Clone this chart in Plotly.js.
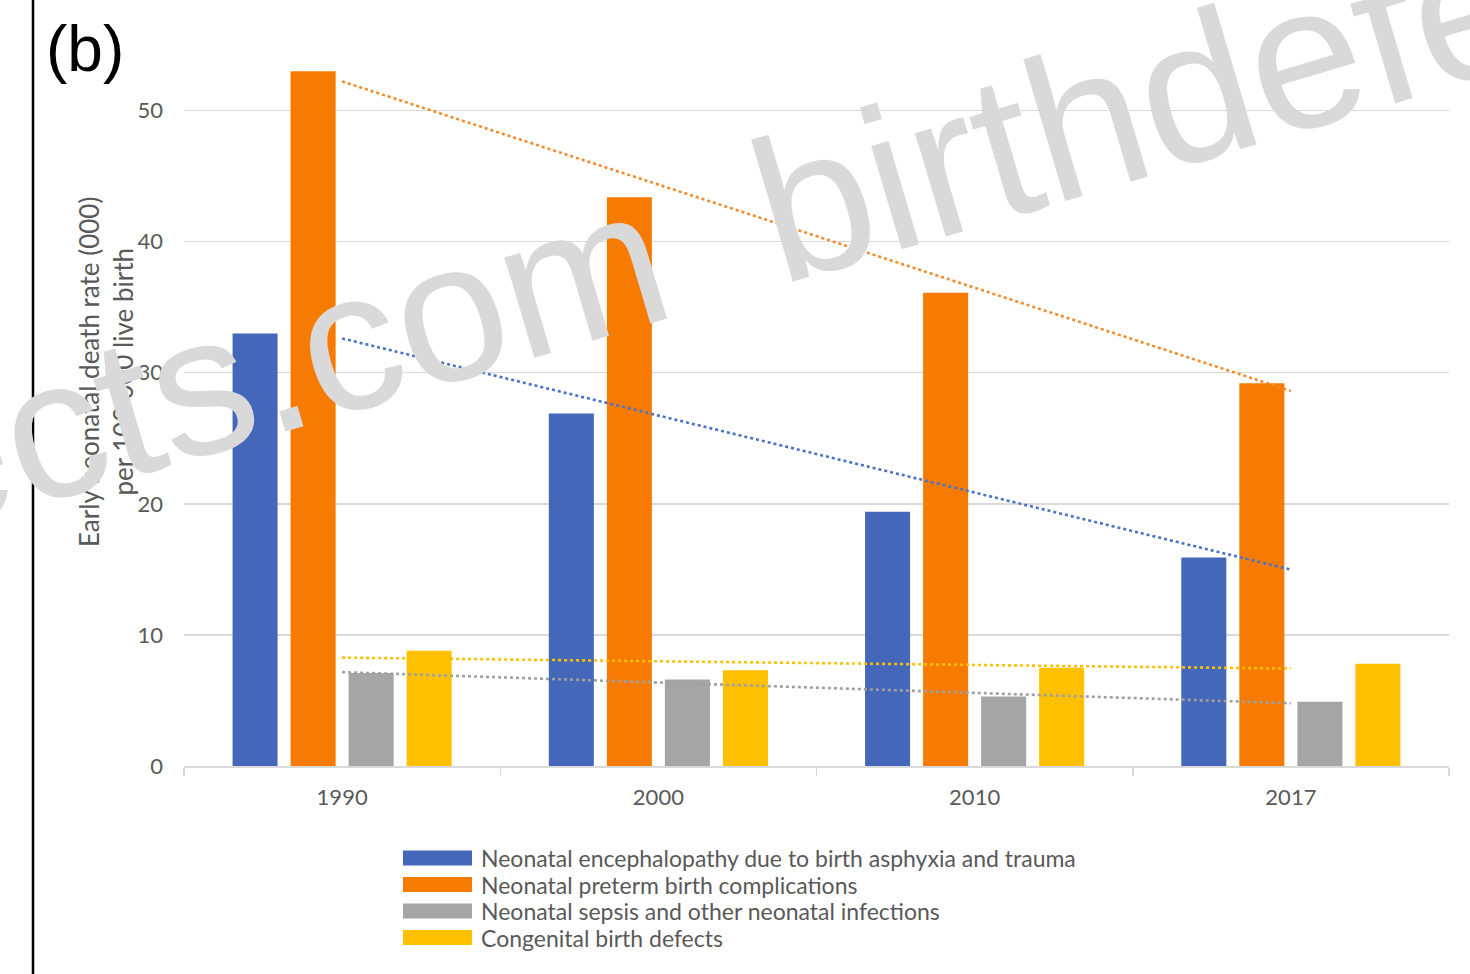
<!DOCTYPE html>
<html>
<head>
<meta charset="utf-8">
<script src="https://cdn.plot.ly/plotly-3.0.1.min.js"></script>
<style>
  html, body { margin: 0; padding: 0; background: #ffffff; }
  #chart { width: 1470px; height: 974px; }
</style>
</head>
<body>
<div id="chart"></div>
<script>
// Early neonatal death rate per 100 000 live births, by cause
const years = ['1990', '2000', '2010', '2017'];
const encephalopathy = [33.0, 26.9, 19.4, 15.9];
const preterm = [53.0, 43.4, 36.1, 29.2];
const sepsis = [7.1, 6.6, 5.3, 4.9];
const congenital = [8.8, 7.3, 7.5, 7.8];

const seriesNames = [
  'Neonatal encephalopathy due to birth asphyxia and trauma',
  'Neonatal preterm birth complications',
  'Neonatal sepsis and other neonatal infections',
  'Congenital birth defects'
];
const seriesColors = ['#4467b9', '#f77b00', '#a5a5a5', '#ffc000'];
const trendColors = ['#4a72c8', '#f58a2a', '#a0a0a0', '#ffc000'];
const yTickValues = [0, 10, 20, 30, 40, 50];
const axisTitle = 'Early neonatal death rate (000)<br>per 100 000 live birth';
const panelLabel = '(b)';
const watermark = 'birthdefects.com';

const series = [encephalopathy, preterm, sepsis, congenital];

// Least-squares linear trend over the category positions 1..n
function linearTrend(values) {
  const n = values.length;
  const xs = values.map((_, i) => i + 1);
  const mx = xs.reduce((a, b) => a + b, 0) / n;
  const my = values.reduce((a, b) => a + b, 0) / n;
  let sxy = 0, sxx = 0;
  for (let i = 0; i < n; i++) {
    sxy += (xs[i] - mx) * (values[i] - my);
    sxx += (xs[i] - mx) * (xs[i] - mx);
  }
  const slope = sxy / sxx;
  return xs.map(x => my + slope * (x - mx));
}

// Figure geometry (pixels)
const W = 1470, H = 974;
const M = { l: 184, r: 21, t: 32, b: 208 };
const plotW = W - M.l - M.r;
const plotH = H - M.t - M.b;
const px = x => (x - M.l) / plotW;          // pixel x -> paper x
const py = y => (H - M.b - y) / plotH;      // pixel y -> paper y

const textGrey = '#595959';
const gridGrey = '#d9d9d9';
const labelFont = 'Lato, "Open Sans", sans-serif';

const traces = [];
series.forEach((vals, i) => {
  traces.push({
    type: 'bar',
    x: years,
    y: vals,
    name: seriesNames[i],
    marker: { color: seriesColors[i], line: { width: 0 } },
    showlegend: false,
    hoverinfo: 'x+y+name'
  });
});
series.forEach((vals, i) => {
  traces.push({
    type: 'scatter',
    mode: 'lines',
    x: years,
    y: linearTrend(vals),
    line: { color: trendColors[i], width: 2.6, dash: 'dot' },
    showlegend: false,
    hoverinfo: 'skip'
  });
});

const shapes = [];
const annotations = [];

// Panel border on the left
shapes.push({
  type: 'line', xref: 'paper', yref: 'paper',
  x0: px(33), x1: px(33), y0: py(H + 5), y1: py(-5),
  line: { color: '#000000', width: 2.5 }
});

// Legend: wide colour swatches with labels
const legendRows = [858, 884.5, 911, 937.5];
seriesNames.forEach((name, i) => {
  const cy = legendRows[i];
  shapes.push({
    type: 'rect', xref: 'paper', yref: 'paper',
    x0: px(403), x1: px(472), y0: py(cy + 7.5), y1: py(cy - 7.5),
    fillcolor: seriesColors[i], line: { width: 0 }
  });
  annotations.push({
    xref: 'paper', yref: 'paper', x: px(479), y: py(cy),
    xanchor: 'left', yanchor: 'middle', showarrow: false,
    text: name, font: { family: labelFont, size: 23, color: textGrey }
  });
});

// Y-axis title
annotations.push({
  xref: 'paper', yref: 'paper', x: px(106), y: py(372),
  xanchor: 'center', yanchor: 'middle', showarrow: false,
  textangle: -90, text: axisTitle,
  font: { family: labelFont, size: 26, color: textGrey }
});

// Panel label
annotations.push({
  xref: 'paper', yref: 'paper', x: px(44), y: py(49),
  xanchor: 'left', yanchor: 'middle', showarrow: false,
  text: panelLabel,
  font: { family: '"Liberation Sans", Arial, sans-serif', size: 64, color: '#000000' }
});

// Watermark, repeated along a diagonal band
const wmFamily = '"Liberation Sans", Arial, sans-serif';
[[-37, 455, 198], [1477, 5, 204]].forEach(([cx, cy, size]) => {
  annotations.push({
    xref: 'paper', yref: 'paper', x: px(cx), y: py(cy),
    xanchor: 'center', yanchor: 'middle', showarrow: false,
    textangle: -16.5, text: watermark,
    font: { family: wmFamily, size: size, color: '#d9d9d9' }
  });
});

const layout = {
  width: W, height: H,
  margin: M,
  paper_bgcolor: '#ffffff',
  plot_bgcolor: '#ffffff',
  barmode: 'group',
  bargap: 0.266,
  bargroupgap: 0.224,
  showlegend: false,
  xaxis: {
    type: 'category',
    categoryorder: 'array',
    categoryarray: years,
    range: [-0.5, 3.5],
    showline: true, linecolor: gridGrey, linewidth: 1.5,
    ticks: 'outside', tickson: 'boundaries', ticklen: 8,
    tickcolor: gridGrey, tickwidth: 1.5,
    showgrid: false, zeroline: false,
    ticklabelstandoff: 11,
    tickfont: { family: labelFont, size: 22, color: textGrey }
  },
  yaxis: {
    range: [0, 56],
    tickmode: 'array', tickvals: yTickValues,
    ticktext: yTickValues.map(String),
    showgrid: true, gridcolor: gridGrey, gridwidth: 1.4,
    zeroline: false, showline: false, ticks: '',
    ticklabelstandoff: 20,
    tickfont: { family: labelFont, size: 22, color: textGrey }
  },
  shapes: shapes,
  annotations: annotations
};

Plotly.newPlot('chart', traces, layout, { displayModeBar: false, staticPlot: true });
</script>
</body>
</html>
